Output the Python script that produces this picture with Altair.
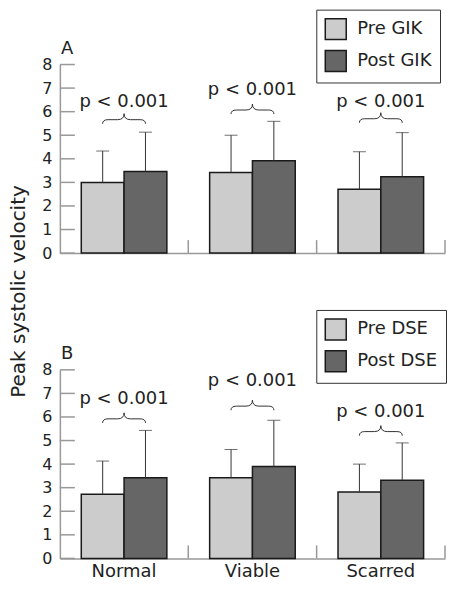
import altair as alt
import pandas as pd

groups = ["Normal", "Viable", "Scarred"]
phases = ["Pre", "Post"]
y_ticks = [0, 1, 2, 3, 4, 5, 6, 7, 8]
p_labels = ["p < 0.001", "p < 0.001", "p < 0.001"]

# Panel A (GIK)
a_names = ["Pre GIK", "Post GIK"]
a_pre = [3.0, 3.42, 2.71]
a_pre_sd = [4.33, 5.0, 4.3]
a_post = [3.46, 3.92, 3.24]
a_post_sd = [5.13, 5.59, 5.11]
a_brace = [5.66, 6.07, 5.7]
a_text = [6.2, 6.71, 6.2]

# Panel B (DSE)
b_names = ["Pre DSE", "Post DSE"]
b_pre = [2.72, 3.42, 2.82]
b_pre_sd = [4.13, 4.62, 4.0]
b_post = [3.42, 3.9, 3.32]
b_post_sd = [5.43, 5.86, 4.9]
b_brace = [5.92, 6.46, 5.38]
b_text = [6.53, 7.31, 6.0]

FONT = "DejaVu Sans"
AXIS_GREY = "#999999"
INK = "#222222"
W, H = 386, 189
BRACE = ("M -1 0.19 Q -1 0 -0.75 0 L -0.3 0 Q 0 0 0 -0.28 "
         "Q 0 0 0.3 0 L 0.75 0 Q 1 0 1 0.19")
ZERO_PAD = {"left": 0, "top": 0, "right": 0, "bottom": 0}


def panel(names, pre, pre_sd, post, post_sd, brace, text_y, letter,
          show_labels, legend_y, y_title):
    rows = []
    for i, g in enumerate(groups):
        rows.append({"group": g, "phase": "Pre", "cond": names[0],
                     "value": pre[i], "sd": pre_sd[i]})
        rows.append({"group": g, "phase": "Post", "cond": names[1],
                     "value": post[i], "sd": post_sd[i]})
    df = pd.DataFrame(rows)
    ann = pd.DataFrame({"group": groups, "brace": brace,
                        "ty": text_y, "label": p_labels})
    ticks = pd.DataFrame({"t": y_ticks})
    letter_df = pd.DataFrame({"letter": [letter]})

    x_axis = alt.Axis(
        title=None, ticks=False, labels=show_labels, domainColor=AXIS_GREY,
        domainWidth=1.5, labelFontSize=18, labelColor=INK, labelPadding=4,
        labelAngle=0)
    y_kwargs = dict(
        title=y_title if y_title else None, ticks=False, values=y_ticks,
        domainColor=AXIS_GREY, domainWidth=1.5, labelFontSize=16,
        labelColor=INK, labelPadding=8, grid=False, labelOverlap=False)
    if y_title:
        y_kwargs.update(titleX=-41, titleY=-79, titleAngle=-90,
                        titleAlign="center", titleBaseline="middle",
                        titleFontSize=20, titleFontWeight="normal",
                        titleColor=INK)
    y_axis = alt.Axis(**y_kwargs)

    xs = alt.Scale(paddingInner=0, paddingOuter=0)
    x = alt.X("group:N", sort=groups, scale=xs, axis=x_axis)
    xo = alt.XOffset("phase:N", sort=phases,
                     scale=alt.Scale(paddingInner=0, paddingOuter=0.5))
    y_scale = alt.Scale(domain=[0, 8], nice=False)

    def Y(field):
        return alt.Y(field, scale=y_scale, axis=y_axis)

    base = alt.Chart(df)
    bars = base.mark_bar(stroke="#1a1a1a", strokeWidth=1.5).encode(
        x=x, xOffset=xo, y=Y("value:Q"),
        color=alt.Color(
            "cond:N", sort=names,
            scale=alt.Scale(domain=names, range=["#cccccc", "#666666"]),
            legend=alt.Legend(
                title=None, orient="none", legendX=257, legendY=legend_y,
                labelFontSize=18, labelColor=INK, symbolType="square",
                symbolSize=441, symbolStrokeColor="#1a1a1a",
                symbolStrokeWidth=1.5, symbolOpacity=1, labelOffset=10,
                rowPadding=5, padding=8, strokeColor="#333333",
                fillColor="white", labelLimit=200)),
    )
    err = base.mark_rule(color="#333333", strokeWidth=1).encode(
        x=x, xOffset=xo, y=Y("value:Q"), y2="sd:Q")
    caps = base.mark_tick(color="#333333", thickness=1, size=13).encode(
        x=x, xOffset=xo, y=Y("sd:Q"))

    abase = alt.Chart(ann)
    braces = abase.mark_point(shape=BRACE, size=1849, filled=False,
                              stroke="#333333", strokeWidth=1,
                              opacity=1).encode(x=x, y=Y("brace:Q"))
    texts = abase.mark_text(fontSize=18, color=INK, baseline="alphabetic",
                            align="center").encode(
        x=x, y=Y("ty:Q"), text="label:N")

    yticks = alt.Chart(ticks).mark_rule(color=AXIS_GREY, strokeWidth=1.5).encode(
        y=Y("t:Q"), x=alt.value(0), x2=alt.value(15))
    sep = abase.mark_rule(color=AXIS_GREY, strokeWidth=1.5).encode(
        x=alt.X("group:N", sort=groups, bandPosition=1, scale=xs,
                axis=x_axis),
        y=alt.value(H), y2=alt.value(H - 13))
    let = alt.Chart(letter_df).mark_text(
        fontSize=18, color=INK, align="left", baseline="alphabetic").encode(
        text="letter:N", x=alt.value(1), y=alt.value(-11))

    return alt.layer(bars, err, caps, braces, texts, yticks, sep,
                     let).properties(width=W, height=H)


pa = panel(a_names, a_pre, a_pre_sd, a_post, a_post_sd, a_brace, a_text,
           "A", False, -55, None)
pb = panel(b_names, b_pre, b_pre_sd, b_post, b_post_sd, b_brace, b_text,
           "B", True, -60, "Peak systolic velocity")

chart = alt.vconcat(pa, pb, spacing=117, bounds="flush",
                    padding=ZERO_PAD).resolve_scale(
    color="independent", x="independent", y="independent"
).resolve_legend(color="independent").configure(
    font=FONT, padding=ZERO_PAD
).configure_view(stroke=None)

chart.save("out.html", embed_options={"renderer": "svg", "actions": False})
